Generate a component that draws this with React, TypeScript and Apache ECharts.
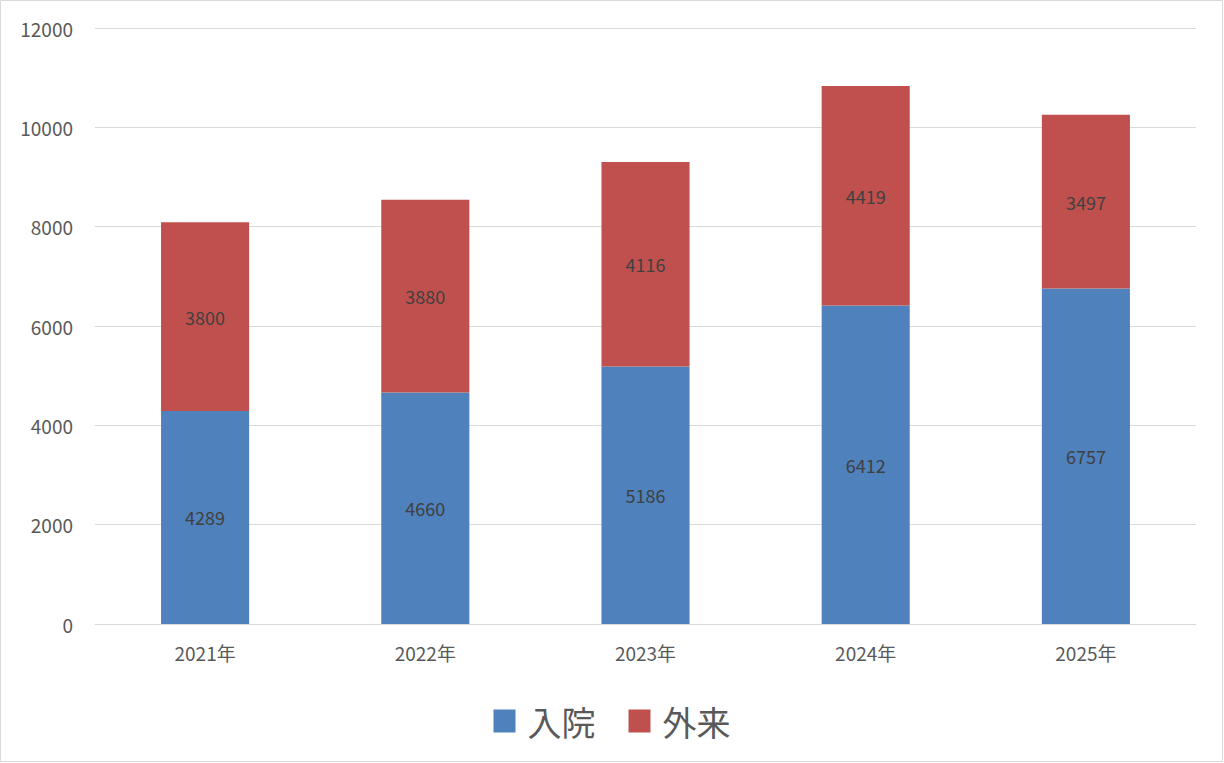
import React, { useEffect, useRef } from "react";
import * as echarts from "echarts";

const categories = ["2021年", "2022年", "2023年", "2024年", "2025年"];
const inpatient = [4289, 4660, 5186, 6412, 6757];
const outpatient = [3800, 3880, 4116, 4419, 3497];
const seriesNames = ["入院", "外来"];

export default function App() {
  const ref = useRef<HTMLDivElement>(null);
  useEffect(() => {
    document.body.style.margin = "0";
    const chart = echarts.init(ref.current!, null, { renderer: "svg" });
    const font = "'Noto Sans CJK JP', 'Noto Sans', sans-serif";
    const label = {
      show: true,
      position: "inside" as const,
      color: "#404040",
      fontSize: 18,
      fontFamily: font,
    };
    chart.setOption({
      animation: false,
      backgroundColor: "#ffffff",
      textStyle: { fontFamily: font },
      graphic: [
        {
          type: "rect",
          shape: { x: 0.5, y: 0.5, width: 1222, height: 761 },
          style: { fill: "none", stroke: "#d9d9d9", lineWidth: 1 },
          silent: true,
        },
      ],
      grid: { left: 95, right: 28, top: 28, bottom: 139, containLabel: false },
      legend: {
        top: 699,
        left: "center",
        itemWidth: 22,
        itemHeight: 23,
        itemGap: 33,
        icon: "rect",
        textStyle: { fontSize: 34, color: "#595959", fontFamily: font, padding: [0, 0, 0, 7] },
        data: seriesNames,
      },
      xAxis: {
        type: "category",
        data: categories,
        axisLine: { lineStyle: { color: "#d9d9d9" } },
        axisTick: { show: false },
        axisLabel: { color: "#595959", fontSize: 19, margin: 19, fontFamily: font },
      },
      yAxis: {
        type: "value",
        min: 0,
        max: 12000,
        interval: 2000,
        axisLine: { show: false },
        axisTick: { show: false },
        splitLine: { lineStyle: { color: "#d9d9d9" } },
        axisLabel: {
          color: "#595959",
          fontSize: 19,
          margin: 22,
          fontFamily: font,
          formatter: (v: number) => String(v),
        },
      },
      series: [
        {
          name: seriesNames[0],
          type: "bar",
          stack: "total",
          data: inpatient,
          barWidth: "40%",
          itemStyle: { color: "#4F81BD" },
          label,
        },
        {
          name: seriesNames[1],
          type: "bar",
          stack: "total",
          data: outpatient,
          barWidth: "40%",
          itemStyle: { color: "#C0504D" },
          label,
        },
      ],
    });
    return () => chart.dispose();
  }, []);
  return <div ref={ref} style={{ width: 1224, height: 763 }} />;
}
